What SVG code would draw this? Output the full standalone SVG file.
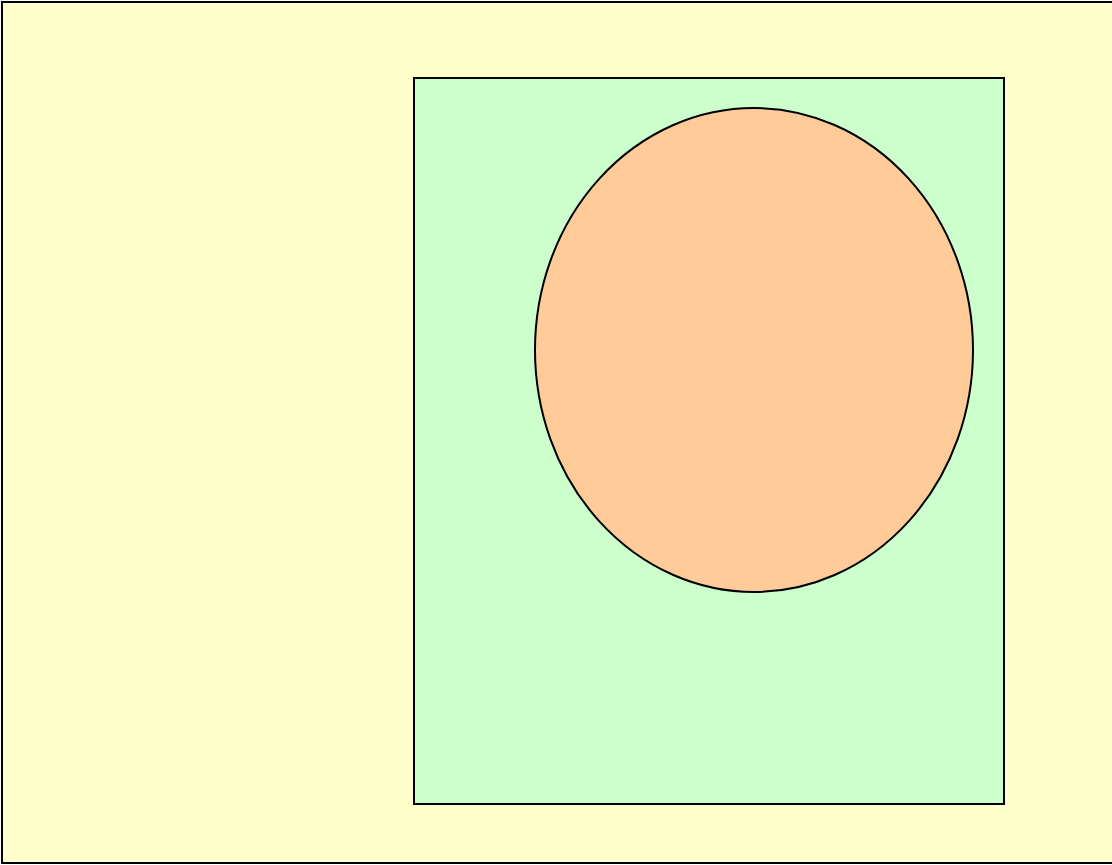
<svg xmlns="http://www.w3.org/2000/svg" width="1112" height="865" viewBox="0 0 1112 865">
<style>
.s{stroke:#000;stroke-width:2}
</style>
<rect width="1112" height="865" fill="#fff"/>
<g id="outer"><rect class="s" x="2" y="2" width="1120" height="861" fill="#FFFFCC"/></g>
<g id="green"><rect class="s" x="414" y="78" width="590" height="726" fill="#CCFFCC"/></g>
<g id="circle"><ellipse class="s" cx="754" cy="350" rx="219" ry="242" fill="#FFCC99"/></g>
<g id="connectors"></g>
</svg>
